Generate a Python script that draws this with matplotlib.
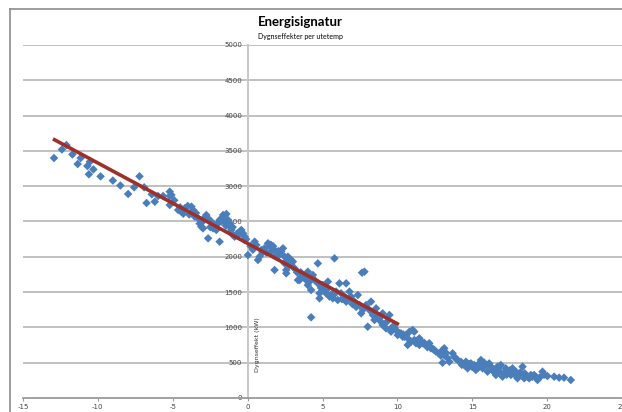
import matplotlib
matplotlib.use("Agg")
import matplotlib.pyplot as plt
from matplotlib.lines import Line2D

title = "Energisignatur"
subtitle = "Dygnseffekter per utetemp"
ylabel = "Dygnseffekt (kW)"

utetemp = [
    -12.93, -12.1, -11.35, -11.15, -10.7, -10.6, -10.53, -10.3, -9.82,
    -7.98, -7.58, -7.22, -6.91, -6.75, -6.4, -5.98, -5.64, -5.2, -5.2, -5.2, -4.64,
    -5.09, -4.42, -4.2, -3.75, -3.64, -3.53, -3.31, -3.09, -2.98, -2.76, -2.64, -2.64,
    -2.42, -2.31, -2.09, -1.98, -1.87, -1.87, -1.76, -1.64, -1.53, -1.42, -1.31, -1.2,
    -1.09, -0.98, -0.87, -0.53, -0.42, -0.31, -0.2, -0.2, 0.02, 0.47, 0.58, 0.69, 0.8,
    0.91, 1.13, 1.36, 1.47, 1.58, 1.8, 1.8, 1.91, 2.13, 2.47, 2.58,
    2.24, 2.36, 2.47, 2.58, 2.69, 2.91, 3.02, 3.02, 3.13, 2.58, 3.36, 3.47, 3.58, 3.69,
    3.91, 4.02, 4.02, 4.13, 4.24, 4.36, 4.47, 4.69, 4.69, 4.8, 4.8, 5.02, 5.24, 5.36,
    5.47, 5.69, 5.8, 5.91, 6.02, 6.13, 6.24, 6.47, 6.58, 6.58, 6.8, 6.91, 7.13, 7.36,
    7.47, 7.58, 7.64, 7.8, 7.91, 8.13, 8.24, 8.36, 8.47, 8.58, 8.8, 9.02, 8.02, 9.02,
    9.24, 9.47, 9.58, 9.69, 9.91, 10.02, 10.24, 10.47, 10.69, 4.24,
    10.13, 10.36, 10.58, 10.8, 11.02, 11.13, 10.69, 10.91, 11.13, 11.24, 11.47, 11.47,
    11.69, 11.91, 12.13, 12.24, 12.47, 12.58, 12.8, 13.02, 13.13, 13.13, 13.02, 13.36,
    13.47, 13.69, 13.8, 14.02, 14.24, 14.47, 14.58, 14.69, 14.91, 15.13, 15.24, 15.47,
    15.58, 15.69, 15.91, 16.02, 16.13, 16.36, 16.58, 16.69, 16.8, 16.91, 17.02, 17.24,
    17.36, 17.58, 17.69, 17.91, 18.02, 18.13, 18.36, 18.47, 18.58, 18.8, 18.91, 19.13,
    19.36, 19.69, 20.02, 20.47, 20.8, 21.13, 21.58,
    -12.4, -11.7, -9.0, -8.5, -6.2, -4.9, -4.0, -3.9, -3.2, -2.5, -1.0, -0.7, 0.2,
    1.0, 1.7, 2.0, 3.3, 3.8, 5.1, 5.6, 6.3, 7.0, 7.7, 8.7, 9.3, 9.8, 11.6, 12.0, 12.9,
    14.3, 15.0, 15.4, 15.8, 16.3, 16.5, 17.1, 17.5, 17.8, 18.2, 18.7, 19.0, 19.5,
    -4.5, -4.3, -3.45, -3.0, -2.85, -2.2, -1.7, -1.45, -1.15, -0.65, -0.1, 0.35,
    1.25, 1.55, 2.05, 2.8, 3.55, 4.3, 4.9, 5.3, 5.75, 6.7, 7.25, 8.3, 8.9, 9.6,
    10.4, 11.35, 11.8, 12.35, 13.25, 13.9, 14.8, 15.3, 16.2, 16.75, 17.3, 17.7, 18.1,
    18.5, 19.25, 19.8,
]
dygnseffekt = [
    3399, 3583, 3314, 3399, 3286, 3169, 3347, 3238, 3139,
    2890, 2984, 3140, 2984, 2762, 2885, 2861, 2861, 2922, 2861, 2734, 2663,
    2875, 2639, 2686, 2710, 2663, 2568, 2545, 2427, 2403, 2592, 2545, 2262,
    2498, 2403, 2380, 2474, 2521, 2214, 2498, 2592, 2498, 2606, 2521, 2474,
    2380, 2309, 2285, 2356, 2380, 2333, 2285, 2238, 2025, 2214, 2167, 1955, 2002,
    2096, 2120, 2191, 2144, 2073, 1813, 2096, 2025, 2049, 2002, 1931,
    2073, 2120, 1907, 1813, 2002, 1955, 1931, 1860, 1836, 1766, 1671, 1671, 1718, 1742,
    1671, 1789, 1600, 1648, 1530, 1742, 1671, 1907, 1624, 1412, 1483, 1600, 1483, 1648,
    1436, 1412, 1978, 1507, 1388, 1624, 1483, 1436, 1365, 1624, 1507, 1436, 1365, 1459,
    1317, 1199, 1775, 1789, 1317, 1247, 1365, 1176, 1105, 1270, 1129, 1199, 1010, 1034,
    987, 1176, 940, 1010, 963, 892, 916, 868, 845, 1143,
    916, 868, 892, 939, 963, 939, 751, 798, 822, 775, 845, 751,
    775, 751, 775, 704, 680, 656, 633, 680, 704, 609, 500, 562,
    514, 633, 585, 538, 514, 467, 514, 420, 490, 467, 397, 490,
    538, 420, 467, 373, 490, 420, 326, 444, 373, 467, 302, 420,
    373, 326, 420, 373, 279, 326, 444, 279, 326, 279, 326, 326,
    255, 373, 311, 302, 288, 288, 255,
    3520, 3450, 3080, 3010, 2780, 2800, 2720, 2600, 2470, 2420, 2420, 2330, 2150,
    2060, 2150, 2000, 1780, 1700, 1540, 1470, 1400, 1330, 1250, 1150, 1080, 1000, 800, 720, 600,
    470, 440, 430, 500, 400, 360, 350, 390, 340, 360, 300, 300, 290,
    2700, 2610, 2620, 2500, 2560, 2450, 2550, 2440, 2420, 2300, 2250, 2100,
    2060, 2170, 2080, 1880, 1780, 1700, 1560, 1540, 1460, 1390, 1290, 1220, 1080, 990,
    900, 820, 780, 700, 640, 560, 480, 440, 450, 400, 330, 380, 330,
    350, 300, 330,
]

trend_x = [-13.0, 10.1]
trend_y = [3670, 1040]

xticks = [-15, -10, -5, 0, 5, 10, 15, 20, 25]
yticks = [0, 500, 1000, 1500, 2000, 2500, 3000, 3500, 4000, 4500, 5000]

W, H = 622, 412
fig = plt.figure(figsize=(W / 100, H / 100), dpi=100)
fig.patch.set_facecolor("white")
ax = fig.add_axes([23 / W, (H - 398) / H, 599 / W, (398 - 45) / H])
ax.set_xlim(-15, 25)
ax.set_ylim(0, 5000)
ax.set_facecolor("none")

for yv in yticks[1:]:
    ax.axhline(yv, color="#BBBBBB", lw=1.3, zorder=1)

ax.spines["left"].set_position(("data", 0))
ax.spines["left"].set_color("#C8C8C8")
ax.spines["left"].set_linewidth(1.4)
ax.spines["bottom"].set_position(("data", 0))
ax.spines["bottom"].set_color("#9A9A9A")
ax.spines["bottom"].set_linewidth(1.3)
ax.spines["top"].set_visible(False)
ax.spines["right"].set_visible(False)

ax.set_xticks(xticks)
ax.set_yticks(yticks)
ax.set_xticklabels([str(v) for v in xticks])
ax.set_yticklabels([str(v) for v in yticks])
ax.tick_params(axis="both", labelsize=5, length=2, width=0.8, pad=2)
ax.tick_params(axis="x", colors="#9A9A9A", labelcolor="#444444")
ax.tick_params(axis="y", colors="#C8C8C8", labelcolor="#444444")

ax.scatter(utetemp, dygnseffekt, marker="D", s=19, color="#4A7EBB",
           edgecolors="none", zorder=3)
ax.plot(trend_x, trend_y, color="#9E2F2A", lw=2.6, zorder=4, solid_capstyle="butt")

ax.text(0.5, 750, ylabel, rotation=90, fontsize=4.5, ha="left", va="center",
        color="#333333", zorder=5)

fig.text(300 / W, 1 - 22 / H, title, fontsize=9.5, fontweight="bold",
         ha="center", va="center", family="Lato")
fig.text(300 / W, 1 - 37 / H, subtitle, fontsize=5, ha="center", va="center",
         family="Lato")

# outer chart frame
fig.add_artist(Line2D([10 / W, 1.0], [1 - 9 / H, 1 - 9 / H], color="#8C8C8C", lw=1.2,
                      transform=fig.transFigure))
fig.add_artist(Line2D([10 / W, 10 / W], [0, 1 - 9 / H], color="#8C8C8C", lw=1.2,
                      transform=fig.transFigure))

fig.savefig("out.png", dpi=100)
